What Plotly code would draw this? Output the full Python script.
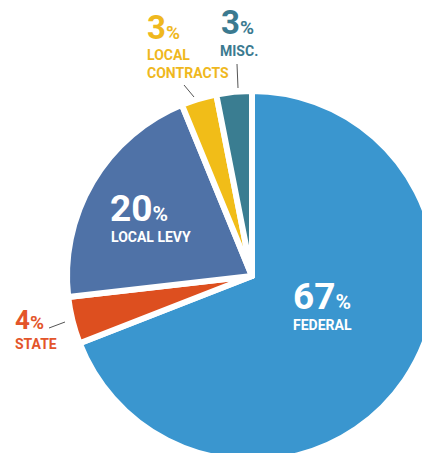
import plotly.graph_objects as go

# ---- data ----
categories = ["FEDERAL", "STATE", "LOCAL LEVY", "LOCAL CONTRACTS", "MISC."]
values = [67, 4, 20, 3, 3]
pct_labels = ["67", "4", "20", "3", "3"]
slice_colors = ["#3a96cf", "#dd4f1f", "#4f72a7", "#f1bd18", "#3a7d91"]

FW, FH = 460, 470          # figure is slightly larger than the window: pie is cropped
CX, CY, R = 252, 276, 185  # pie centre / radius in pixels

FONT = "Roboto, Liberation Sans, sans-serif"
DESC = 0.244  # Roboto descent (em)


def px(x):
    return x / FW


def py(y):
    return 1 - y / FH


fig = go.Figure(go.Pie(
    labels=categories,
    values=values,
    sort=False,
    direction="clockwise",
    rotation=0,
    marker=dict(colors=slice_colors, line=dict(color="white", width=6)),
    textinfo="none",
    hoverinfo="label+percent",
    domain=dict(x=[px(CX - R), px(CX + R)], y=[py(CY + R), py(CY - R)]),
    showlegend=False,
))

annotations = []


def label(x, baseline, text, size, color):
    """baseline = baseline of the LAST line of the text, in window pixels"""
    annotations.append(dict(
        x=px(x), y=py(baseline + DESC * size), xref="paper", yref="paper",
        xanchor="left", yanchor="bottom", borderpad=0,
        align="left", text=text, showarrow=False,
        font=dict(family=FONT, size=size, color=color, weight="bold")))


def pct(n, small):
    return f"{n}<span style='font-size:{small}px'>%</span>"


W = 14  # word label size

# Federal (inside)
label(292, 310, pct(pct_labels[0], 21), 37, "white")
label(292, 331, categories[0], W, "white")
# Local levy (inside)
label(109, 222, pct(pct_labels[2], 21), 37, "white")
label(110, 243, categories[2], W, "white")
# State (outside)
label(14, 330, pct(pct_labels[1], 19), 26, "#e3552a")
label(14, 350, categories[1], W, "#e3552a")
# Local contracts (outside)
label(146, 40, pct(pct_labels[3], 19), 33, "#efb81e")
label(146, 79, "LOCAL<br>CONTRACTS", W, "#efb81e")
# Misc (outside)
label(220, 35, pct(pct_labels[4], 19), 33, "#3b7a90")
label(219, 57, categories[4], W, "#3b7a90")

shapes = [
    dict(type="line", xref="paper", yref="paper", x0=px(184), y0=py(85), x1=px(194), y1=py(97),
         line=dict(color="#555555", width=1)),
    dict(type="line", xref="paper", yref="paper", x0=px(237), y0=py(64), x1=px(238), y1=py(88),
         line=dict(color="#555555", width=1)),
    dict(type="line", xref="paper", yref="paper", x0=px(49), y0=py(328), x1=px(65), y1=py(322),
         line=dict(color="#555555", width=1)),
]

fig.update_layout(
    width=FW, height=FH,
    margin=dict(l=0, r=0, t=0, b=0),
    paper_bgcolor="white",
    plot_bgcolor="white",
    annotations=annotations,
    shapes=shapes,
)

fig.write_html(
    "out.html",
    config={"displayModeBar": False},
    post_script="document.body.style.margin='0';document.body.style.overflow='hidden';",
)
